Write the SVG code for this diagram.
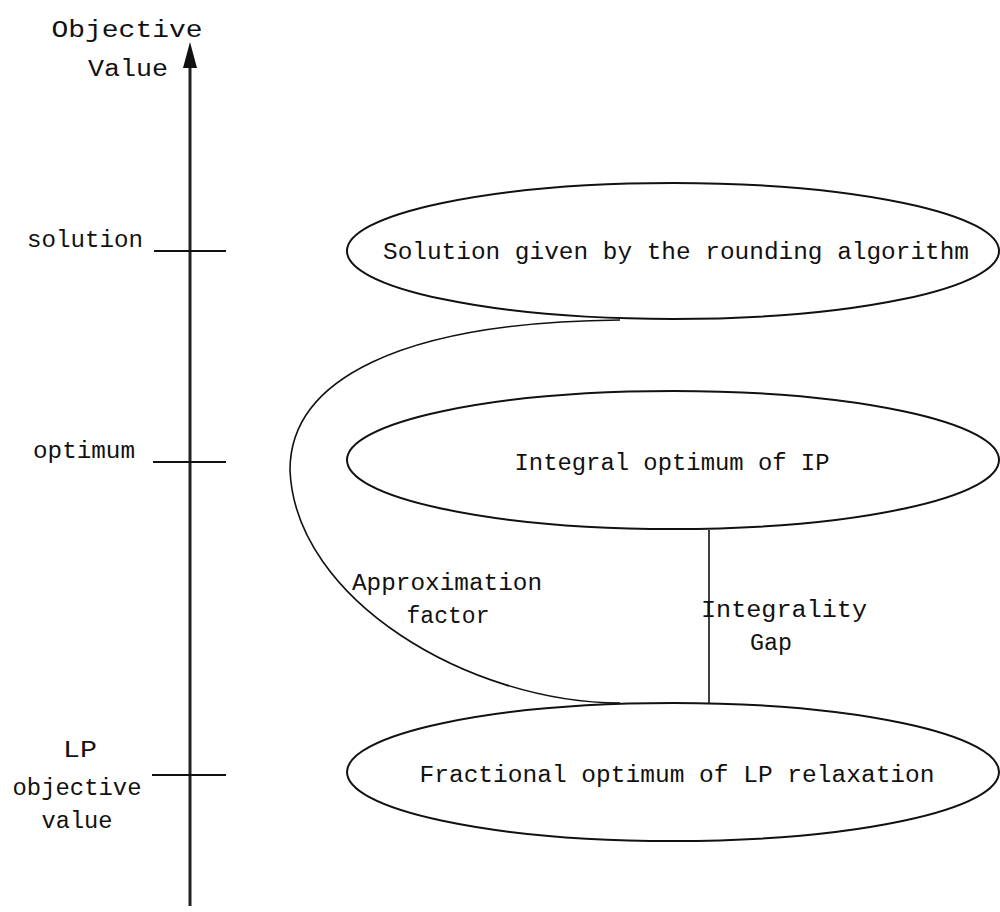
<svg xmlns="http://www.w3.org/2000/svg" width="1000" height="912" viewBox="0 0 1000 912">
<style>
  text { font-family: "Liberation Mono", "DejaVu Sans Mono", monospace; font-size: 23px; fill: #111; }
  .node ellipse { fill: none; stroke: #111; stroke-width: 2; }
  .axis { stroke: #222; stroke-width: 3; fill: none; }
  .tick { stroke: #111; stroke-width: 2; }
  .conn { fill: none; stroke: #111; stroke-width: 1.6; }
</style>
<rect width="1000" height="912" fill="#fff"/>

<g id="axis">
  <line class="axis" x1="190" y1="906" x2="190" y2="64"/>
  <polygon points="190,42 183,68 197,68" fill="#111"/>
  <line class="tick" x1="154" y1="251" x2="226" y2="251"/>
  <line class="tick" x1="153" y1="462" x2="226" y2="462"/>
  <line class="tick" x1="152" y1="775" x2="226" y2="775"/>
  <text x="127" y="37" text-anchor="middle" font-size="25" textLength="151" lengthAdjust="spacingAndGlyphs">Objective</text>
  <text x="128" y="76" text-anchor="middle" font-size="25" textLength="80" lengthAdjust="spacingAndGlyphs">Value</text>
  <text x="85" y="247" text-anchor="middle" textLength="116" lengthAdjust="spacingAndGlyphs">solution</text>
  <text x="84" y="458" text-anchor="middle" font-size="21" textLength="102" lengthAdjust="spacingAndGlyphs">optimum</text>
  <text x="80" y="757" text-anchor="middle" textLength="34" lengthAdjust="spacingAndGlyphs">LP</text>
  <text x="77" y="795" text-anchor="middle" textLength="129" lengthAdjust="spacingAndGlyphs">objective</text>
  <text x="77" y="828" text-anchor="middle" textLength="71" lengthAdjust="spacingAndGlyphs">value</text>
</g>

<g id="connectors">
  <path class="conn" d="M620,320 C400,322 290,380 290,470 C295,600 470,703 620,703"/>
  <line class="conn" x1="709" y1="530" x2="709" y2="704"/>
  <text x="447" y="590" text-anchor="middle" textLength="190" lengthAdjust="spacingAndGlyphs">Approximation</text>
  <text x="448" y="623" text-anchor="middle" textLength="83" lengthAdjust="spacingAndGlyphs">factor</text>
  <text x="784" y="617" text-anchor="middle" textLength="166" lengthAdjust="spacingAndGlyphs">Integrality</text>
  <text x="771" y="650" text-anchor="middle" textLength="42" lengthAdjust="spacingAndGlyphs">Gap</text>
</g>

<g id="node-solution" class="node">
  <ellipse cx="673" cy="251" rx="326" ry="68"/>
  <text x="676" y="259" text-anchor="middle" textLength="586" lengthAdjust="spacingAndGlyphs">Solution given by the rounding algorithm</text>
</g>

<g id="node-integral" class="node">
  <ellipse cx="673" cy="460" rx="326" ry="69"/>
  <text x="672" y="470" text-anchor="middle" textLength="315" lengthAdjust="spacingAndGlyphs">Integral optimum of IP</text>
</g>

<g id="node-fractional" class="node">
  <ellipse cx="673" cy="772" rx="326" ry="69"/>
  <text x="677" y="782" text-anchor="middle" textLength="515" lengthAdjust="spacingAndGlyphs">Fractional optimum of LP relaxation</text>
</g>
</svg>
